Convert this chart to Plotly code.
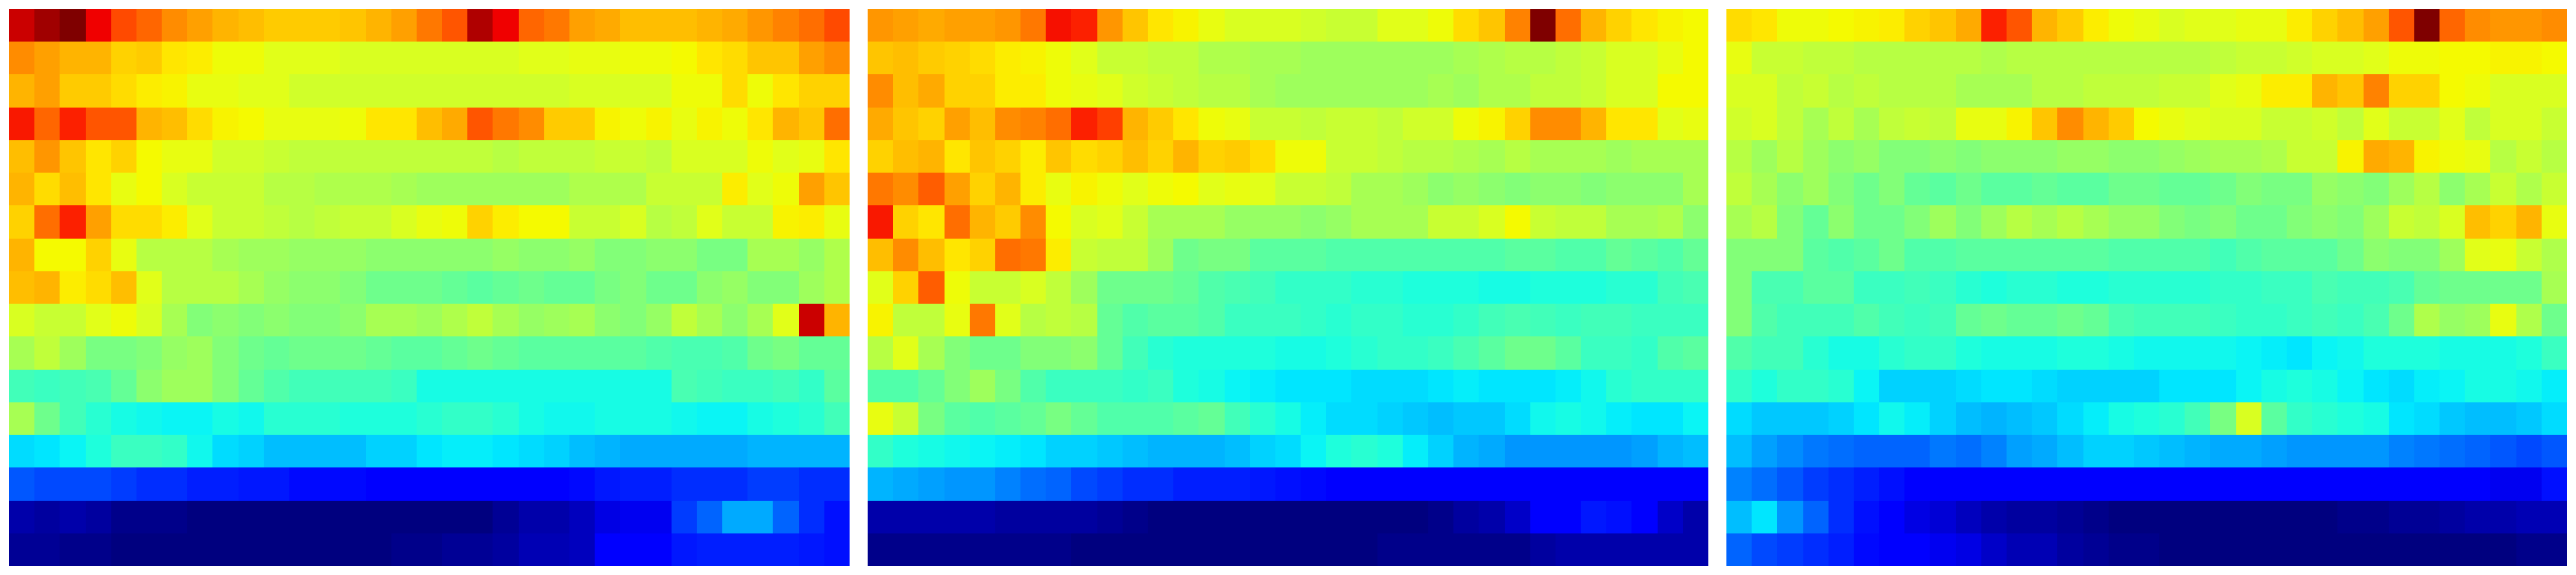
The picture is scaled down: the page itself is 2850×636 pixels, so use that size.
import plotly.graph_objects as go

panel_a = [
[94,97,100,91,83,80,76,74,72,71,69,69,69,70,72,74,78,82,96,91,80,78,74,73,71,71,71,72,73,75,77,79,83],
[76,74,72,72,68,69,66,65,62,62,60,60,60,59,59,59,59,59,59,59,60,60,61,61,62,62,63,66,67,70,70,74,76],
[72,74,69,69,67,65,64,61,61,60,60,58,58,58,58,58,58,58,58,58,58,58,59,59,59,59,62,62,67,62,66,68,68],
[88,80,87,82,82,72,71,67,64,63,61,61,61,62,66,66,71,73,82,78,76,69,69,64,62,64,61,64,62,66,72,70,79],
[71,75,70,66,68,63,61,61,58,58,57,56,56,56,56,56,56,56,56,55,56,56,56,57,57,56,59,59,59,62,60,61,66],
[72,67,71,66,61,63,59,57,57,57,55,55,54,54,54,53,52,52,52,52,52,52,54,54,54,57,57,57,65,60,62,74,70],
[68,79,87,74,67,67,65,60,57,57,56,55,56,57,57,59,61,62,68,65,63,63,57,57,59,55,56,60,57,57,64,65,61],
[72,63,63,68,61,55,55,55,53,52,52,51,51,51,50,50,50,50,50,51,50,50,51,49,49,50,50,48,48,53,53,51,54],
[71,72,65,67,71,60,55,55,55,53,51,50,50,49,47,47,47,46,45,46,47,46,46,48,49,47,47,50,51,49,49,52,54],
[59,57,57,60,62,59,53,49,50,49,50,49,49,50,53,53,52,54,56,53,51,52,53,50,49,51,56,53,50,53,60,94,72],
[53,56,52,48,48,49,51,52,49,47,46,47,47,47,46,45,45,46,47,46,45,45,45,45,45,44,43,43,44,47,48,46,46],
[42,41,42,43,46,50,52,52,49,46,44,42,42,42,42,41,37,37,37,37,37,37,37,37,37,37,43,42,41,41,42,40,45],
[53,47,42,39,37,36,35,35,37,36,39,39,39,38,38,38,39,40,40,39,37,36,36,37,37,37,36,35,35,37,38,39,42],
[32,33,35,38,41,41,40,36,32,31,29,29,29,29,31,31,33,34,34,33,32,31,29,28,27,27,27,27,27,28,28,28,28],
[19,18,18,18,17,16,16,15,15,14,14,12,12,12,11,11,11,11,11,11,11,11,12,14,15,15,16,16,16,17,17,16,16],
[4,3,4,3,1,1,1,0,0,0,0,0,0,0,0,0,0,0,0,2,4,4,6,9,10,10,17,20,27,27,20,16,13],
[2,2,1,1,0,0,0,0,0,0,0,0,0,0,0,1,1,2,2,3,5,5,6,11,11,11,14,15,15,15,15,14,13],
]

panel_b = [
[75,74,73,74,74,75,78,89,87,75,70,66,64,61,59,59,59,58,57,57,60,60,62,67,70,77,100,79,72,68,66,64,63],
[70,71,69,68,67,65,64,62,60,57,57,56,56,54,54,53,53,52,52,52,52,52,52,53,54,55,55,56,57,59,59,61,63],
[76,71,73,68,68,65,65,62,61,60,58,57,56,55,55,53,52,52,52,52,52,52,53,52,54,54,56,56,57,59,59,63,63],
[73,70,68,74,71,76,77,79,87,84,72,69,66,62,61,57,57,56,57,57,56,58,58,62,64,68,76,76,72,66,66,60,61],
[68,71,72,66,70,68,65,70,67,68,71,68,72,68,69,67,62,62,57,57,56,55,55,54,53,55,53,53,53,52,53,53,53],
[78,76,81,74,68,72,65,61,64,62,60,62,63,60,61,60,57,57,56,53,53,52,50,51,50,49,50,50,49,50,50,50,53],
[88,68,66,79,72,69,76,63,59,60,57,53,53,53,51,51,51,50,51,53,53,53,57,57,59,63,57,56,56,53,53,54,50],
[71,76,71,66,68,79,78,65,57,56,56,52,47,48,48,45,45,45,44,44,44,44,44,44,44,45,45,44,44,46,45,44,46],
[60,68,81,62,57,57,59,56,52,47,47,47,46,44,43,42,40,40,40,39,39,38,38,38,37,37,38,38,38,39,39,42,43],
[64,56,56,61,78,60,55,56,55,46,44,45,45,44,41,41,41,40,39,40,40,39,39,40,42,43,42,41,42,42,41,41,41],
[55,60,53,49,47,47,49,49,50,46,42,39,38,38,38,38,37,37,38,39,40,40,41,43,45,47,47,45,41,41,40,44,45],
[44,44,46,49,52,48,44,41,41,41,40,41,38,37,35,34,33,33,33,32,32,32,33,34,33,33,33,34,36,39,40,40,40],
[61,57,48,45,44,45,46,48,46,44,44,44,45,46,42,39,37,34,32,32,31,30,29,30,30,32,36,37,36,34,33,33,35],
[40,38,37,36,35,34,33,31,31,30,29,28,28,28,29,31,32,35,38,39,38,34,31,28,27,25,25,25,25,25,26,28,29],
[28,27,26,25,25,23,21,20,18,17,16,16,15,15,15,14,13,12,11,11,11,11,11,11,11,11,11,11,11,11,11,11,11],
[4,4,4,4,4,3,3,3,3,2,1,0,0,0,0,0,0,0,0,0,0,0,1,3,4,7,11,11,14,13,11,7,4],
[1,1,1,1,1,1,1,1,0,0,0,0,0,0,0,0,0,0,0,0,1,1,1,1,1,1,3,4,4,4,4,4,4],
]

panel_c = [
[67,66,62,62,63,64,65,68,70,73,87,82,72,69,65,62,61,59,60,60,61,61,65,68,71,74,82,100,80,76,75,75,76],
[61,57,57,56,56,55,55,55,55,55,54,55,55,55,55,55,55,55,55,56,57,57,58,59,59,60,62,62,63,63,64,64,63],
[59,59,56,57,55,56,55,55,55,53,53,53,55,55,56,56,56,57,57,60,61,65,65,72,70,77,68,68,63,62,59,59,59],
[58,59,56,53,56,53,56,57,56,61,61,64,70,76,72,69,63,61,60,59,59,57,57,58,56,60,57,57,60,56,59,59,57],
[55,52,55,52,50,51,49,49,50,49,50,50,50,51,51,50,50,51,52,53,53,54,57,57,64,73,72,64,62,61,55,57,55],
[56,53,50,52,49,47,49,46,45,47,45,45,46,45,45,47,47,46,46,47,49,48,48,51,50,49,52,55,50,53,57,54,57],
[53,55,49,46,50,47,47,49,52,49,52,55,53,55,53,51,51,49,48,49,47,47,49,50,49,52,57,56,59,71,68,72,61],
[49,49,49,45,44,45,47,44,44,45,45,45,45,45,45,44,44,44,44,42,44,45,45,45,47,50,49,49,52,60,61,57,54],
[49,43,43,45,45,41,41,42,41,39,38,39,39,38,38,39,39,39,39,40,40,41,41,43,42,42,43,46,47,47,47,47,53],
[49,44,42,42,42,44,42,41,42,46,47,46,46,47,46,43,42,42,42,41,40,40,41,42,41,43,47,54,51,52,61,54,47],
[44,42,42,39,37,37,39,40,40,38,37,37,37,38,38,37,36,36,36,36,35,34,33,35,36,38,38,38,37,37,37,38,41],
[40,38,40,40,39,35,31,31,31,32,33,33,32,31,31,31,31,33,33,33,35,37,38,37,35,33,32,34,35,37,37,36,34],
[32,30,30,30,31,33,36,34,31,29,28,29,30,32,34,37,38,39,42,48,59,45,40,39,38,37,33,32,30,29,29,30,32],
[29,26,24,22,21,20,20,20,22,21,23,26,27,29,31,31,30,29,28,27,27,26,25,25,25,25,23,22,21,20,19,18,19],
[23,21,19,17,16,15,13,11,11,11,11,11,11,11,11,11,11,11,11,11,11,11,11,11,11,11,11,11,11,11,10,10,13],
[29,33,25,20,16,13,11,9,8,6,4,3,3,2,1,0,0,0,0,0,0,0,0,0,1,1,2,2,3,4,4,5,5],
[20,18,17,16,15,12,11,11,10,9,7,5,5,3,2,1,1,0,0,0,0,0,0,0,0,0,0,0,0,0,0,1,1],
]

panels = [panel_a, panel_b, panel_c]
stops = [0, 4, 7, 11, 15, 17, 20, 25, 27, 29, 31, 33, 35, 38, 40, 44, 47, 49, 51, 54, 57, 60, 63, 66, 68, 71, 73, 76, 79, 82, 86, 91, 95, 97, 100]
stop_colors = [
    (0,0,127),(0,0,170),(0,0,200),(0,0,255),(0,30,255),(0,60,255),(0,100,255),(0,150,255),(0,170,255),
    (0,190,255),(0,210,255),(0,230,255),(10,245,245),(30,255,220),(50,255,200),(80,255,170),(110,255,140),
    (130,255,120),(150,255,100),(175,255,75),(200,255,50),(225,255,25),(245,250,0),(255,230,0),(255,210,0),
    (255,190,0),(255,170,0),(255,140,0),(255,110,0),(255,85,0),(255,40,0),(240,0,0),(190,0,0),(160,0,0),(127,0,0),
]
jet = [[s / 100, "rgb(%d,%d,%d)" % c] for s, c in zip(stops, stop_colors)]
W, H = 2850, 636
domains_x = [(10, 940), (960, 1890), (1910, 2840)]
domain_y = (10, 626)

fig = go.Figure()
for i, z in enumerate(panels):
    ax = "" if i == 0 else str(i + 1)
    fig.add_trace(go.Heatmap(z=z, zmin=0, zmax=100, colorscale=jet, showscale=False,
                             xaxis="x" + ax, yaxis="y" + ax, hoverinfo="skip"))
    fig.layout["xaxis" + ax] = dict(domain=[domains_x[i][0] / W, domains_x[i][1] / W], visible=False, anchor="y" + ax)
    fig.layout["yaxis" + ax] = dict(domain=[1 - domain_y[1] / H, 1 - domain_y[0] / H], visible=False,
                                    autorange="reversed", anchor="x" + ax)
fig.update_layout(width=W, height=H, margin=dict(l=0, r=0, t=0, b=0), paper_bgcolor="white", plot_bgcolor="white")
fig.write_html("out.html", config={"displayModeBar": False},
               post_script="document.body.style.margin='0';document.documentElement.style.overflow='hidden';")
